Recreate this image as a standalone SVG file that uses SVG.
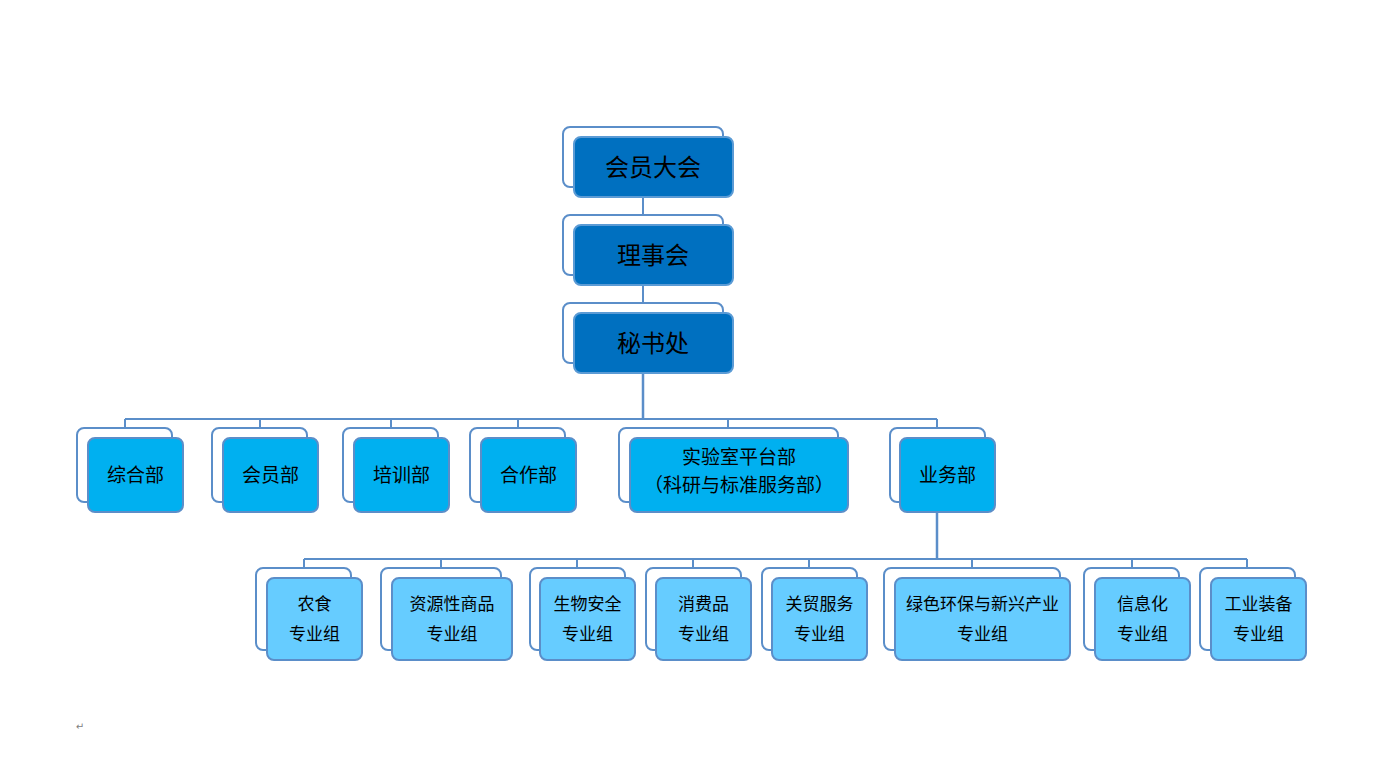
<svg xmlns="http://www.w3.org/2000/svg" width="1398" height="758" viewBox="0 0 1398 758">
<style>
.bk{fill:#ffffff;stroke:#5B8EC9;stroke-width:2}
.f1{fill:#0070C0;stroke:#5B9BD5;stroke-width:2}
.f2{fill:#00B0F0;stroke:#5B8EC9;stroke-width:2}
.f3{fill:#66CCFF;stroke:#5B8EC9;stroke-width:2}
.ln{fill:none;stroke:#5B8EC9;stroke-width:2}
.tr{fill:none;stroke:#5B8EC9;stroke-width:2.5}
text{font-family:"Noto Sans CJK SC","Noto Sans",sans-serif;fill:#000;text-anchor:middle;dominant-baseline:central}
.t1{font-size:24px}
.t2{font-size:19px}
.t3{font-size:17px}
</style>
<rect width="1398" height="758" fill="#ffffff"/>
<g id="connectors">
<path class="ln" d="M643 197V215M643 285V303M125 419H937M125 419V428M260 419V428M391 419V428M518 419V428M728 419V428M937 419V428"/>
<path class="tr" d="M643 373V419M937 512V559"/>
<path class="ln" d="M304 559H1247M304 559V568M441 559V568M577 559V568M693 559V568M809 559V568M972 559V568M1132 559V568M1247 559V568"/>
</g>
<g id="n1"><rect class="bk" x="563" y="127" width="160" height="60" rx="7"/><rect class="f1" x="574" y="137" width="159" height="60" rx="7"/><text class="t1" x="653" y="165">会员大会</text></g>
<g id="n2"><rect class="bk" x="563" y="215" width="160" height="60" rx="7"/><rect class="f1" x="574" y="225" width="159" height="60" rx="7"/><text class="t1" x="653" y="253">理事会</text></g>
<g id="n3"><rect class="bk" x="563" y="303" width="160" height="60" rx="7"/><rect class="f1" x="574" y="313" width="159" height="60" rx="7"/><text class="t1" x="653" y="341">秘书处</text></g>
<g id="d1"><rect class="bk" x="77" y="428" width="95" height="74" rx="7"/><rect class="f2" x="88" y="438" width="95" height="74" rx="7"/><text class="t2" x="135.5" y="473.5">综合部</text></g>
<g id="d2"><rect class="bk" x="212" y="428" width="95" height="74" rx="7"/><rect class="f2" x="223" y="438" width="95" height="74" rx="7"/><text class="t2" x="270.5" y="473.5">会员部</text></g>
<g id="d3"><rect class="bk" x="343" y="428" width="95" height="74" rx="7"/><rect class="f2" x="354" y="438" width="95" height="74" rx="7"/><text class="t2" x="401.5" y="473.5">培训部</text></g>
<g id="d4"><rect class="bk" x="470" y="428" width="95" height="74" rx="7"/><rect class="f2" x="481" y="438" width="95" height="74" rx="7"/><text class="t2" x="528.5" y="473.5">合作部</text></g>
<g id="d5"><rect class="bk" x="619" y="428" width="219" height="74" rx="7"/><rect class="f2" x="630" y="438" width="218" height="74" rx="7"/><text class="t2" x="739" y="455.5">实验室平台部</text><text class="t2" x="739" y="483.5">（科研与标准服务部）</text></g>
<g id="d6"><rect class="bk" x="890" y="428" width="95" height="74" rx="7"/><rect class="f2" x="900" y="438" width="95" height="74" rx="7"/><text class="t2" x="947.5" y="473.5">业务部</text></g>
<g id="g1"><rect class="bk" x="256" y="568" width="95" height="82" rx="7"/><rect class="f3" x="267" y="578" width="95" height="82" rx="7"/><text class="t3" x="314.5" y="602.5">农食</text><text class="t3" x="314.5" y="632.5">专业组</text></g>
<g id="g2"><rect class="bk" x="381" y="568" width="120" height="82" rx="7"/><rect class="f3" x="392" y="578" width="120" height="82" rx="7"/><text class="t3" x="452" y="602.5">资源性商品</text><text class="t3" x="452" y="632.5">专业组</text></g>
<g id="g3"><rect class="bk" x="530" y="568" width="95" height="82" rx="7"/><rect class="f3" x="540" y="578" width="95" height="82" rx="7"/><text class="t3" x="587.5" y="602.5">生物安全</text><text class="t3" x="587.5" y="632.5">专业组</text></g>
<g id="g4"><rect class="bk" x="646" y="568" width="95" height="82" rx="7"/><rect class="f3" x="656" y="578" width="95" height="82" rx="7"/><text class="t3" x="703.5" y="602.5">消费品</text><text class="t3" x="703.5" y="632.5">专业组</text></g>
<g id="g5"><rect class="bk" x="762" y="568" width="95" height="82" rx="7"/><rect class="f3" x="772" y="578" width="95" height="82" rx="7"/><text class="t3" x="819.5" y="602.5">关贸服务</text><text class="t3" x="819.5" y="632.5">专业组</text></g>
<g id="g6"><rect class="bk" x="884" y="568" width="176" height="82" rx="7"/><rect class="f3" x="895" y="578" width="175" height="82" rx="7"/><text class="t3" x="982.5" y="602.5">绿色环保与新兴产业</text><text class="t3" x="982.5" y="632.5">专业组</text></g>
<g id="g7"><rect class="bk" x="1084" y="568" width="95" height="82" rx="7"/><rect class="f3" x="1095" y="578" width="95" height="82" rx="7"/><text class="t3" x="1142.5" y="602.5">信息化</text><text class="t3" x="1142.5" y="632.5">专业组</text></g>
<g id="g8"><rect class="bk" x="1200" y="568" width="95" height="82" rx="7"/><rect class="f3" x="1211" y="578" width="95" height="82" rx="7"/><text class="t3" x="1258.5" y="602.5">工业装备</text><text class="t3" x="1258.5" y="632.5">专业组</text></g>
<text x="80" y="726" style="font-size:10px;fill:#808080;font-family:'DejaVu Sans',sans-serif">↵</text>
</svg>
